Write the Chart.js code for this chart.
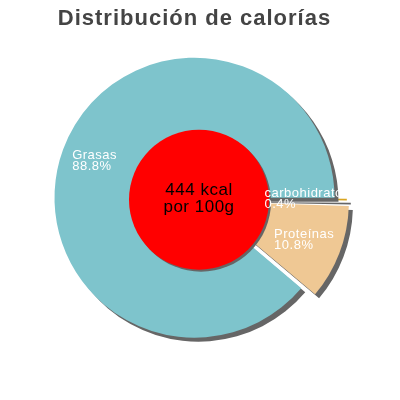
<!DOCTYPE html>
<html>
<head>
<meta charset="utf-8">
<script src="https://cdn.jsdelivr.net/npm/chart.js@4"></script>
<style>
  html, body { margin: 0; padding: 0; background: #fff; }
</style>
</head>
<body>
<canvas id="chart" width="400" height="400"></canvas>
<script>
// ── Datos ──
const labels = ['carbohidratos', 'Proteínas', 'Grasas'];
const shares = [0.4, 10.8, 88.8];          // % de las calorías
const energyKcal = 444;
const energyBasis = 'por 100g';
const titleText = 'Distribución de calorías';

// ── Estilo ──
const FONT = '"Liberation Sans", Arial, sans-serif';
const sliceColors = ['#d9a521', '#efc894', '#7ec4cc'];
const sliceOffsets = [25, 44, 0];          // Chart.js translada offset/4
const SHADOW = '#666666';

// espaciado de letras del título
const spacingPlugin = {
  id: 'titleSpacing',
  beforeDraw(chart) {
    chart.ctx.letterSpacing = '1px';
  }
};

// sombra bajo las porciones
const shadowPlugin = {
  id: 'sliceShadow',
  beforeDatasetsDraw(chart) {
    const c = chart.ctx;
    c.letterSpacing = '0px';
    c.save();
    c.shadowColor = SHADOW;
    c.shadowOffsetX = 4;
    c.shadowOffsetY = 4;
    c.shadowBlur = 0;
  },
  afterDatasetsDraw(chart) {
    chart.ctx.restore();
  }
};

// disco rojo central con el total de energía
const centerPlugin = {
  id: 'centerDisc',
  afterDatasetsDraw(chart) {
    const arc = chart.getDatasetMeta(0).data[0];
    const c = chart.ctx;
    const x = arc.x + 4.5, y = arc.y + 2, r = arc.outerRadius / 2;
    c.save();
    c.shadowColor = SHADOW;
    c.shadowOffsetX = 2;
    c.shadowOffsetY = 2;
    c.beginPath();
    c.arc(x, y, r, 0, Math.PI * 2);
    c.fillStyle = '#ff0000';
    c.fill();
    c.restore();

    c.save();
    c.fillStyle = '#000';
    c.font = '17px ' + FONT;
    c.letterSpacing = '0.5px';
    c.textAlign = 'center';
    c.textBaseline = 'middle';
    c.fillText(energyKcal + ' kcal', x, y - 9.5);
    c.fillText(energyBasis, x, y + 8);
    c.restore();
  }
};

// etiquetas blancas de cada porción
const labelPlugin = {
  id: 'sliceLabels',
  afterDraw(chart) {
    const meta = chart.getDatasetMeta(0);
    const total = shares.reduce((a, b) => a + b, 0);
    const c = chart.ctx;
    const first = meta.data[0];
    c.save();
    c.beginPath();
    c.rect(0, 0, first.x + first.outerRadius + 4, chart.height);
    c.clip();
    c.font = '13px ' + FONT;
    c.letterSpacing = '0.5px';
    c.fillStyle = '#fff';
    c.textAlign = 'left';
    c.textBaseline = 'middle';
    meta.data.forEach((arc, i) => {
      const mid = (arc.startAngle + arc.endAngle) / 2;
      const r = (arc.options.offset || 0) / 4 + arc.outerRadius * 0.76;
      const px = arc.x + Math.cos(mid) * r;
      const py = arc.y + Math.sin(mid) * r;
      const lines = [labels[i], (shares[i] / total * 100).toFixed(1) + '%'];
      const w = Math.max(...lines.map(t => c.measureText(t).width));
      c.fillText(lines[0], px - w / 2, py - 5.5);
      c.fillText(lines[1], px - w / 2, py + 5.5);
    });
    c.restore();
  }
};

new Chart(document.getElementById('chart'), {
  type: 'pie',
  data: {
    labels: labels,
    datasets: [{
      data: shares,
      backgroundColor: sliceColors,
      offset: sliceOffsets,
      hoverOffset: 0,
      borderWidth: 0
    }]
  },
  options: {
    responsive: false,
    animation: false,
    rotation: 90,
    radius: 140,
    layout: { padding: { left: 0, right: 11, top: 0, bottom: 41 } },
    events: [],
    plugins: {
      legend: { display: false },
      tooltip: { enabled: false },
      title: {
        display: true,
        text: titleText,
        color: '#444444',
        font: { family: FONT, size: 22, weight: 'bold', lineHeight: 1.2 },
        padding: { top: 6, bottom: 4 }
      }
    }
  },
  plugins: [spacingPlugin, shadowPlugin, centerPlugin, labelPlugin]
});
</script>
</body>
</html>
